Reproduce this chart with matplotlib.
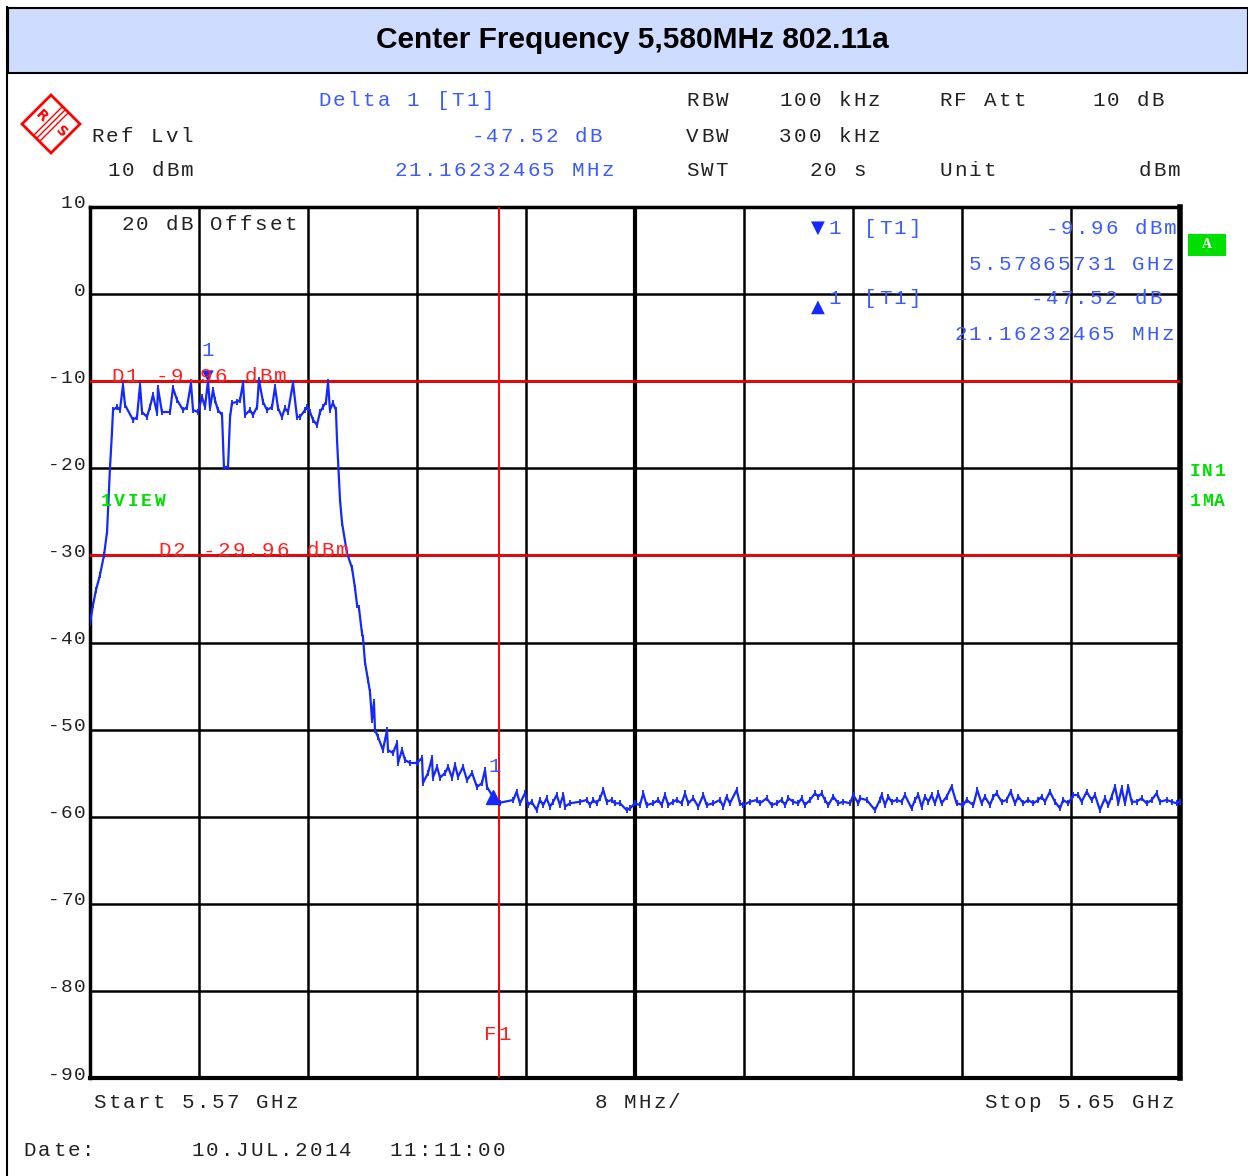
import numpy as np
import matplotlib
matplotlib.use('Agg')
import matplotlib.pyplot as plt
from matplotlib.transforms import IdentityTransform
from matplotlib.patches import Rectangle, Polygon
from matplotlib.lines import Line2D

# sweep: offset from start frequency (MHz) and level (dBm)
f_mhz = [0.0, 0.22, 0.44, 0.73, 1.03, 1.25, 1.47, 1.61, 1.69, 1.98, 2.20, 2.42, 2.57, 3.16, 3.45, 3.67,
         3.82, 4.18, 4.40, 4.62, 4.92, 4.99, 5.28, 5.87, 6.09, 6.39, 6.83, 7.12, 7.41, 7.56, 7.93, 8.22,
         8.44, 8.66, 8.81, 9.03, 9.17, 9.39, 9.69, 9.83, 10.13, 10.28, 10.42, 10.79, 11.01, 11.23, 11.38,
         11.74, 11.96, 12.26, 12.40, 12.70, 12.99, 13.36, 13.58, 13.80, 14.09, 14.31, 14.53, 14.90, 15.19,
         15.41, 15.78, 15.93, 16.15, 16.37, 16.66, 16.88, 17.10, 17.32, 17.47, 17.61, 17.83, 18.05, 18.13,
         18.35, 18.50, 18.86, 19.23, 19.45, 19.60, 19.74, 19.96, 20.04, 20.18, 20.40, 20.55, 20.70, 20.84,
         20.92, 21.14, 21.50, 21.80, 21.87, 22.24, 22.53, 22.61, 22.90, 23.12, 23.49, 24.00, 24.37, 24.44,
         24.81, 25.10, 25.17, 25.47, 25.69, 26.06, 26.28, 26.57, 26.79, 27.01, 27.38, 27.67, 28.04, 28.40,
         28.77, 28.99, 29.14, 29.58,
         30.09, 31.07, 31.31, 31.56, 31.92, 32.17, 32.41, 32.78, 33.02, 33.27, 33.51, 33.76, 34.00, 34.25,
         34.49, 34.74, 34.86, 35.23, 35.96, 36.45, 36.69, 36.94, 37.18, 37.43, 37.67, 37.92, 38.28, 38.53,
         38.90, 39.38, 39.63, 40.00, 40.36, 40.61, 40.85, 41.34, 41.71, 41.95, 42.20, 42.44, 42.81, 43.05,
         43.42, 43.67, 43.91, 44.28, 44.64, 45.01, 45.26, 45.75, 46.23, 46.48, 46.72, 46.97, 47.46, 47.70,
         47.95, 48.44, 48.93, 49.17, 49.66, 50.03, 50.39, 50.76, 51.01, 51.25, 51.62, 51.98, 52.23, 52.47,
         52.84, 53.21, 53.45, 53.70, 53.94, 54.19, 54.55, 54.92, 55.29, 55.78, 56.02, 56.39,
         56.51, 57.00, 57.61, 57.98, 58.10, 58.35, 58.59, 58.83, 59.20, 59.57, 59.81, 60.30, 60.55, 60.79,
         61.04, 61.28, 61.53, 61.77, 62.01, 62.26, 62.50, 62.87, 63.24, 63.60, 64.09, 64.34, 64.83, 65.12,
         65.44, 65.68, 66.05, 66.30, 66.54, 66.91, 67.27, 67.57, 67.89, 68.13, 68.50, 68.86, 69.23, 69.60,
         69.84, 70.09, 70.45, 70.82, 71.19, 71.43, 71.80, 72.17, 72.53, 72.78, 73.15, 73.51, 73.76, 74.12,
         74.49, 74.74, 74.98, 75.23, 75.47, 75.72, 75.96, 76.20, 76.45, 76.82, 77.18, 77.55, 77.92, 78.28,
         78.53, 79.02, 79.39, 79.75, 80.00]
lvl_dbm = [-37.76, -35.7, -33.98, -32.25, -29.96, -27.3, -19.85, -15.95, -13.3, -12.96, -13.3, -10.44, -12.73,
           -14.45, -14.1, -10.44, -13.54, -14.1, -12.96, -11.58, -13.65, -10.78, -13.54, -13.54, -10.78, -12.16,
           -13.31, -12.96, -10.21, -13.31, -13.54, -11.81, -12.96, -9.96, -13.08, -11.0, -12.16, -13.31, -13.88,
           -19.85, -19.85, -14.1, -12.5, -12.39, -12.16, -10.21, -13.88, -13.31, -13.88, -12.96, -9.86, -12.39,
           -13.31, -12.96, -10.67, -13.08, -14.1, -13.08, -13.54, -10.21, -14.1, -14.1, -13.31, -12.96, -13.54,
           -14.45, -15.03, -13.54, -12.96, -12.39, -10.09, -13.31, -12.5, -13.31, -16.75, -23.64, -26.28, -29.72,
           -31.45, -33.74, -35.7, -36.04, -38.91, -39.48, -42.24, -44.3, -45.68, -48.9, -46.83, -50.05, -50.85,
           -52.34, -50.05, -52.34, -52.69, -51.54, -53.83, -52.34, -53.49, -53.83, -53.83, -53.26, -56.13, -54.98,
           -53.26, -55.52, -54.29, -55.52, -54.98, -54.29, -55.52, -54.06, -55.4, -54.29, -55.79, -54.98, -56.59,
           -56.13, -54.64, -56.59, -57.73,
           -58.39, -58.08, -57.13, -58.46, -57.32, -58.66, -58.28, -59.23, -58.08, -58.66, -57.89, -58.85, -58.28,
           -57.51, -58.66, -57.51, -58.85, -58.46, -58.28, -58.08, -58.66, -58.08, -58.46, -57.89, -56.93, -58.28,
           -58.08, -58.46, -58.46, -59.23, -59.04, -58.46, -58.66, -57.32, -58.66, -58.46, -58.08, -58.66, -57.51,
           -58.66, -58.28, -58.08, -58.46, -57.32, -58.46, -57.89, -58.85, -57.51, -58.66, -58.46, -58.08, -58.85,
           -57.70, -58.46, -56.93, -58.46, -58.66, -58.28, -58.08, -58.46, -57.89, -58.66, -58.46, -58.08, -58.66,
           -57.89, -58.28, -58.46, -57.89, -58.66, -58.08, -57.32, -57.70, -57.32, -58.08, -58.66, -57.70, -58.46,
           -58.28, -58.46, -57.51, -58.46,
           -57.89, -58.08, -59.23, -58.08, -57.51, -58.66, -57.70, -58.28, -58.08, -58.28, -57.51, -59.04, -58.08,
           -57.51, -58.85, -57.70, -58.28, -57.51, -58.46, -57.32, -58.46, -57.70, -56.55, -58.46, -58.66, -58.08,
           -58.66, -56.93, -58.46, -57.70, -58.66, -57.70, -57.32, -58.28, -58.08, -57.13, -58.46, -57.70, -58.46,
           -58.08, -58.46, -58.08, -57.70, -58.28, -57.13, -58.28, -59.04, -58.08, -58.46, -57.51, -57.51, -58.28,
           -57.13, -58.08, -57.51, -59.23, -57.89, -58.66, -57.70, -56.55, -58.46, -56.74, -58.46, -56.55, -58.28,
           -58.28, -57.89, -58.46, -58.08, -57.32, -58.28, -58.08, -58.28, -58.46, -58.28]

y_ticks = [10, 0, -10, -20, -30, -40, -50, -60, -70, -80, -90]
d1_level = -9.96
d2_level = -29.96
f1_mhz = 30.0
mk1 = (8.66, -9.96)
mk_delta = (29.58, -57.73)

title = 'Center Frequency 5,580MHz 802.11a'

W, H = 1248, 1176
BLUE = '#1428ff'
TBLUE = '#3c5aff'
GRAY = '#222222'
RED = '#ff0000'
GREEN = '#00e000'

fig = plt.figure(figsize=(W / 100, H / 100), dpi=100)
fig.patch.set_facecolor('white')
IT = IdentityTransform()


def mono(x, y, s, color=GRAY, size=15, pitch=14.8, right=False, weight='normal'):
    # wide-spaced monospaced text, x/y in picture pixels (y from top)
    if right:
        x = x - len(s) * pitch
    for i, ch in enumerate(s):
        if ch == ' ':
            continue
        fig.text(x + (i + 0.5) * pitch, H - y - 1, ch, transform=IT, ha='center', va='center',
                 color=color, fontsize=size, family=['Liberation Mono', 'DejaVu Sans Mono'],
                 weight=weight)


# frame and title bar
fig.add_artist(Rectangle((8, H - 73), W - 8, 65, transform=IT, facecolor='#cddcff',
                         edgecolor='black', lw=1.5))
fig.add_artist(Line2D([7, 7], [0, H - 7], transform=IT, color='black', lw=1.5))
fig.text(632, H - 40, title, transform=IT, ha='center', va='center', fontsize=21.5,
         weight='bold', family=['Liberation Sans Narrow', 'Liberation Sans'])

# R&S logo
cx, cy = 51, H - 124
fig.add_artist(Polygon([(cx, cy + 29), (cx + 29, cy), (cx, cy - 29), (cx - 29, cy)], closed=True,
                       transform=IT, fill=False, edgecolor=RED, lw=2))
for d in (-3, 0, 3):
    fig.add_artist(Line2D([cx - 14 + d, cx + 14 + d], [cy - 14 - d, cy + 14 - d], transform=IT,
                          color=RED, lw=1))
fig.text(cx - 10, cy + 8, 'R', transform=IT, ha='center', va='center', color=RED,
         fontsize=10, weight='bold', rotation=-45)
fig.text(cx + 10, cy - 8, 'S', transform=IT, ha='center', va='center', color=RED,
         fontsize=10, weight='bold', rotation=-45)

# header
mono(317, 100, 'Delta 1 [T1]', TBLUE)
mono(685, 100, 'RBW')
mono(778, 100, '100 kHz')
mono(938, 100, 'RF Att')
mono(1091, 100, '10 dB')
mono(90, 135, 'Ref Lvl')
mono(470, 135, '-47.52 dB', TBLUE)
mono(685, 135, 'VBW')
mono(778, 135, '300 kHz')
mono(106, 170, '10 dBm')
mono(393, 170, '21.16232465 MHz', TBLUE)
mono(685, 170, 'SWT')
mono(808, 170, '20 s')
mono(938, 170, 'Unit')
mono(1137, 170, 'dBm')

# plot area
ax = fig.add_axes([90 / W, 1 - 1078 / H, 1090 / W, 871 / H])
ax.set_xlim(0, 80)
ax.set_ylim(-90, 10)
ax.set_xticks(np.arange(0, 81, 8))
ax.set_yticks(y_ticks)
ax.tick_params(length=0, labelleft=False, labelbottom=False)
ax.grid(True, color='black', lw=1.8)
ax.axvline(40, color='black', lw=3)
for side, w in (('left', 2.5), ('top', 2.5), ('bottom', 3), ('right', 4)):
    ax.spines[side].set_linewidth(w)

ax.axhline(d1_level, color=RED, lw=1.8, zorder=3)
ax.axhline(d2_level, color=RED, lw=1.8, zorder=3)
ax.axvline(f1_mhz, color=RED, lw=1.4, zorder=3)

ax.plot(f_mhz, lvl_dbm, color=BLUE, lw=1.6, marker='|', ms=4.5, mew=1.3, zorder=4)

ax.annotate('\u25bc', xy=mk1, xytext=(0, -2), textcoords='offset points', ha='center', va='bottom',
            color=BLUE, fontsize=11, family='DejaVu Sans', zorder=5)
ax.plot(*mk_delta, marker='^', color=BLUE, ms=10, zorder=5)

# y labels
for v in y_ticks:
    X, Y = ax.transData.transform((0, v))
    mono(X - 4, H - Y - 4, str(v), GRAY, size=14, pitch=12.7, right=True)

# texts inside plot
mono(120, 223, '20 dB Offset')
mono(110, 375, 'D1 -9.96 dBm', '#ff2020')
mono(157, 550, 'D2 -29.96 dBm', '#ff2020')
mono(483, 1034, 'F1', '#ff2020')
mono(100, 500, '1VIEW', GREEN, size=13, pitch=13.2, weight='bold')
mono(200, 350, '1', TBLUE)
mono(487, 766, '1', TBLUE)

# marker table
fig.text(818, H - 228, '\u25bc', transform=IT, ha='center', va='center', color=BLUE, fontsize=13,
         family='DejaVu Sans')
mono(827, 228, '1', TBLUE)
mono(863, 228, '[T1]', TBLUE)
mono(1178, 228, '-9.96 dBm', TBLUE, right=True)
mono(1175, 263, '5.57865731 GHz', TBLUE, right=True)
fig.text(818, H - 307, '\u25b2', transform=IT, ha='center', va='center', color=BLUE, fontsize=13,
         family='DejaVu Sans')
mono(827, 298, '1', TBLUE)
mono(863, 298, '[T1]', TBLUE)
mono(1163, 298, '-47.52 dB', TBLUE, right=True)
mono(1175, 333, '21.16232465 MHz', TBLUE, right=True)

# right side status
fig.add_artist(Rectangle((1188, H - 256), 38, 22, transform=IT, facecolor=GREEN, edgecolor='none'))
fig.text(1207, H - 245, 'A', transform=IT, ha='center', va='center', color='white', fontsize=10,
         weight='bold', family='Liberation Serif')
mono(1189, 471, 'IN1', GREEN, size=13, pitch=12.3, weight='bold')
mono(1189, 500, '1MA', GREEN, size=13, pitch=12.3, weight='bold')

# bottom
mono(92, 1102, 'Start 5.57 GHz')
mono(593, 1102, '8 MHz/')
mono(1175, 1102, 'Stop 5.65 GHz', right=True)
mono(22, 1150, 'Date:')
mono(190, 1150, '10.JUL.2014')
mono(388, 1150, '11:11:00')

fig.savefig('out.png', dpi=100)
